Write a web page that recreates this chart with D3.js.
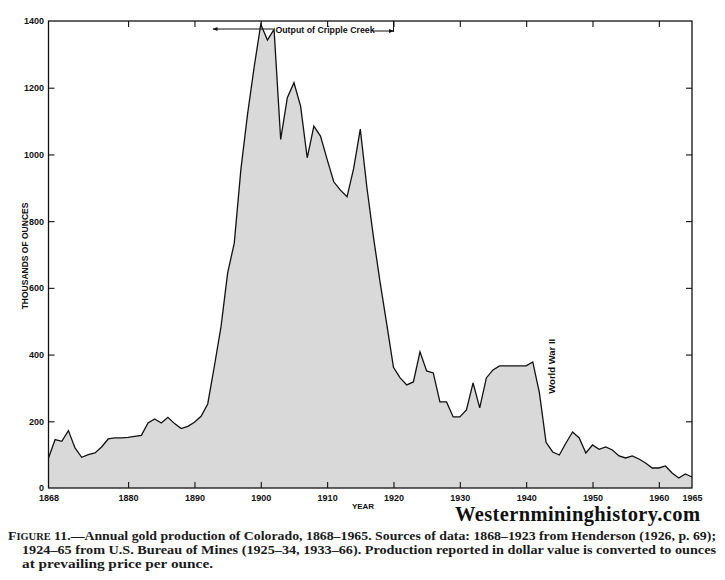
<!DOCTYPE html>
<html>
<head>
<meta charset="utf-8">
<script src="https://cdn.jsdelivr.net/npm/d3@7"></script>
<style>
  body { margin: 0; background: #fff; }
  svg { display: block; }
  .tick-label { font-family: "Liberation Sans", Arial, sans-serif; font-size: 9px; font-weight: bold; fill: #111; }
  .caption { font-family: "Liberation Serif", "DejaVu Serif", serif; font-size: 12.3px; font-weight: bold; fill: #1a1a1a; }
</style>
</head>
<body>
<svg id="svg"></svg>
<script>
// annual gold production, thousands of ounces
const years = [
  1868, 1869,
  1870, 1871, 1872, 1873, 1874, 1875, 1876, 1877, 1878, 1879,
  1880, 1881, 1882, 1883, 1884, 1885, 1886, 1887, 1888, 1889,
  1890, 1891, 1892, 1893, 1894, 1895, 1896, 1897, 1898, 1899,
  1900, 1901, 1902, 1903, 1904, 1905, 1906, 1907, 1908, 1909,
  1910, 1911, 1912, 1913, 1914, 1915, 1916, 1917, 1918, 1919,
  1920, 1921, 1922, 1923, 1924, 1925, 1926, 1927, 1928, 1929,
  1930, 1931, 1932, 1933, 1934, 1935, 1936, 1937, 1938, 1939,
  1940, 1941, 1942, 1943, 1944, 1945, 1946, 1947, 1948, 1949,
  1950, 1951, 1952, 1953, 1954, 1955, 1956, 1957, 1958, 1959,
  1960, 1961, 1962, 1963, 1964, 1965
];
const ounces = [
  90, 145,
  140, 172, 120, 92, 100, 105, 123, 147, 150, 150,
  152, 155, 158, 195, 207, 195, 212, 193, 178, 185,
  197, 215, 252, 365, 483, 644, 734, 955, 1120, 1262,
  1390, 1343, 1375, 1045, 1170, 1215, 1145, 990, 1085, 1055,
  985, 918, 893, 873, 958, 1076, 900, 750, 615, 490,
  362, 330, 309, 318, 408, 351, 345, 258, 258, 213,
  213, 234, 315, 240, 330, 354, 366, 366, 366, 366,
  366, 378, 285, 137, 108, 99, 135, 168, 150, 105,
  129, 116, 123, 114, 96, 90, 96, 87, 75, 60,
  60, 66, 45, 30, 42, 33
];
const xTickValues = [1868, 1880, 1890, 1900, 1910, 1920, 1930, 1940, 1950, 1960, 1965];
const xInnerTicks = [1880, 1890, 1900, 1910, 1920, 1930, 1940, 1950, 1960];
const yTickValues = [0, 200, 400, 600, 800, 1000, 1200, 1400];
const yInnerTicks = [200, 400, 600, 800, 1000, 1200];
const captionLines = [
  "—Annual gold production of Colorado, 1868–1965. Sources of data: 1868–1923 from Henderson (1926, p. 69);",
  "1924–65 from U.S. Bureau of Mines (1925–34, 1933–66). Production reported in dollar value is converted to ounces",
  "at prevailing price per ounce."
];

const W = 725, H = 580;
const svg = d3.select('#svg').attr('width', W).attr('height', H);

const x = d3.scaleLinear().domain([1868, 1965]).range([48.5, 692]);
const y = d3.scaleLinear().domain([0, 1400]).range([488, 21]);

const data = years.map((yr, i) => ({ year: yr, value: ounces[i] }));

// shaded area under the curve
const area = d3.area()
  .x(d => x(d.year))
  .y0(y(0))
  .y1(d => y(d.value));
svg.append('path')
  .datum(data)
  .attr('d', area)
  .attr('fill', '#d9d9d9');

const line = d3.line()
  .x(d => x(d.year))
  .y(d => y(d.value));
svg.append('path')
  .datum(data)
  .attr('d', line)
  .attr('fill', 'none')
  .attr('stroke', '#111')
  .attr('stroke-width', 1.3);

// frame
svg.append('rect')
  .attr('x', x(1868)).attr('y', y(1400))
  .attr('width', x(1965) - x(1868)).attr('height', y(0) - y(1400))
  .attr('fill', 'none').attr('stroke', '#111').attr('stroke-width', 1.3);

// axes: ticks point inward
const bottomAxis = d3.axisBottom(x).tickValues(xTickValues).tickFormat(d3.format('d')).tickSize(-6).tickPadding(12);
const gb = svg.append('g').attr('transform', `translate(0,${y(0)})`).call(bottomAxis);
gb.select('.domain').remove();
gb.selectAll('.tick line').filter(d => d === 1868 || d === 1965).remove();
gb.selectAll('text').attr('class', 'tick-label').attr('dy', '0.1em');

const leftAxis = d3.axisLeft(y).tickValues(yTickValues).tickFormat(d3.format('d')).tickSize(-6).tickPadding(4.5);
const gl = svg.append('g').attr('transform', `translate(${x(1868)},0)`).call(leftAxis);
gl.select('.domain').remove();
gl.selectAll('.tick line').filter(d => d === 0 || d === 1400).remove();
gl.selectAll('text').attr('class', 'tick-label');

const topAxis = d3.axisTop(x).tickValues(xInnerTicks).tickSize(-6).tickFormat('');
const gt = svg.append('g').attr('transform', `translate(0,${y(1400)})`).call(topAxis);
gt.select('.domain').remove();

const rightAxis = d3.axisRight(y).tickValues(yInnerTicks).tickSize(-6).tickFormat('');
const gr = svg.append('g').attr('transform', `translate(${x(1965)},0)`).call(rightAxis);
gr.select('.domain').remove();

svg.selectAll('.tick line').attr('stroke', '#111').attr('stroke-width', 1.1);

// axis titles
svg.append('text')
  .attr('class', 'tick-label')
  .attr('transform', `translate(28,256) rotate(-90)`)
  .attr('text-anchor', 'middle')
  .style('font-size', '8.5px')
  .text('THOUSANDS OF OUNCES');

svg.append('text')
  .attr('class', 'tick-label')
  .attr('x', 363).attr('y', 509)
  .attr('text-anchor', 'middle')
  .style('font-size', '8px')
  .text('YEAR');

// Cripple Creek annotation
const ay = 29;
svg.append('defs').append('marker')
  .attr('id', 'arrow')
  .attr('viewBox', '0 0 10 10')
  .attr('refX', 9).attr('refY', 5)
  .attr('markerWidth', 7).attr('markerHeight', 5)
  .attr('orient', 'auto-start-reverse')
  .append('path').attr('d', 'M0,1L10,5L0,9z').attr('fill', '#111');

svg.append('line')
  .attr('x1', x(1892.8)).attr('x2', x(1901.9))
  .attr('y1', ay).attr('y2', ay)
  .attr('stroke', '#111').attr('stroke-width', 1)
  .attr('marker-start', 'url(#arrow)');
svg.append('text')
  .attr('class', 'tick-label')
  .attr('x', x(1902.2)).attr('y', ay + 3.5)
  .style('font-size', '8.8px')
  .text('Output of Cripple Creek');
svg.append('line')
  .attr('x1', x(1916.9)).attr('x2', x(1920))
  .attr('y1', ay + 2).attr('y2', ay + 2)
  .attr('stroke', '#111').attr('stroke-width', 1)
  .attr('marker-end', 'url(#arrow)');
svg.append('line')
  .attr('x1', x(1920)).attr('x2', x(1920))
  .attr('y1', y(1400)).attr('y2', ay + 3)
  .attr('stroke', '#111').attr('stroke-width', 1);

svg.append('text')
  .attr('class', 'tick-label')
  .attr('transform', `translate(${x(1944) + 2},${y(365)}) rotate(-90)`)
  .attr('text-anchor', 'middle')
  .style('font-size', '9.5px')
  .text('World War II');

// watermark
svg.append('text')
  .attr('x', 700).attr('y', 521)
  .attr('text-anchor', 'end')
  .attr('textLength', 245)
  .style('font-family', '"Liberation Serif", serif')
  .style('font-size', '20.5px')
  .style('font-weight', 'bold')
  .attr('fill', '#111')
  .text('Westernmininghistory.com');

// caption
const cap = svg.append('g');
const l1 = cap.append('text').attr('class', 'caption').attr('x', 8).attr('y', 540)
  .attr('textLength', 708).attr('lengthAdjust', 'spacingAndGlyphs');
l1.append('tspan').text('F');
l1.append('tspan').style('font-size', '9.3px').text('IGURE');
l1.append('tspan').text(' 11.' + captionLines[0]);
cap.append('text').attr('class', 'caption').attr('x', 22).attr('y', 554)
  .attr('textLength', 694).attr('lengthAdjust', 'spacingAndGlyphs').text(captionLines[1]);
cap.append('text').attr('class', 'caption').attr('x', 22).attr('y', 568)
  .attr('textLength', 191).attr('lengthAdjust', 'spacingAndGlyphs').text(captionLines[2]);
</script>
</body>
</html>
